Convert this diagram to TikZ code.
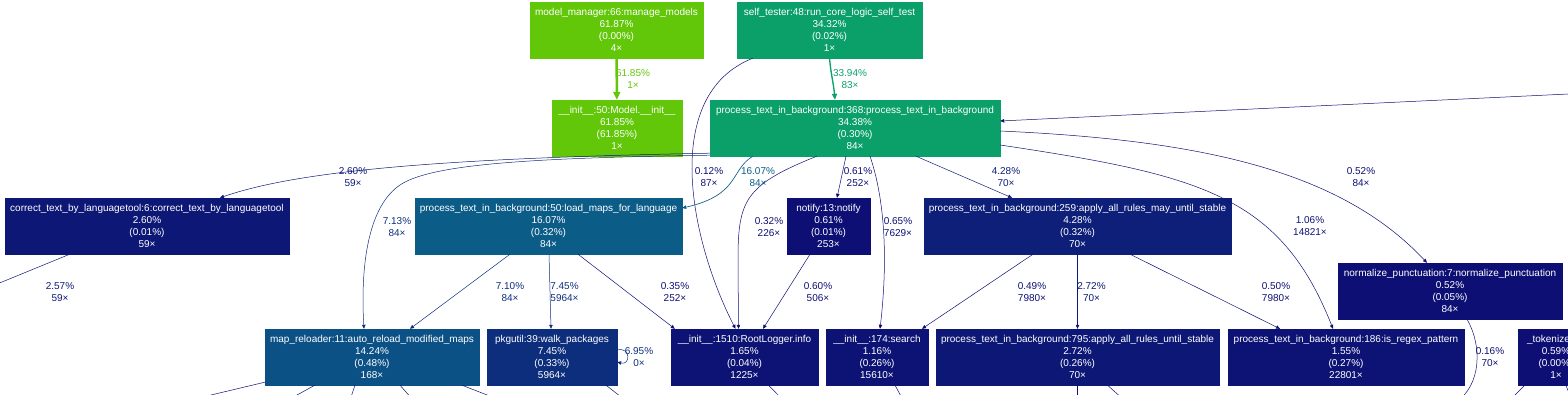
\documentclass[tikz,border=0pt]{standalone}
\usepackage{fontspec}
\setmainfont{Liberation Sans}
\usetikzlibrary{arrows.meta,calc}

\definecolor{hot62}{RGB}{98,199,8}
\definecolor{hot34}{RGB}{11,160,105}
\definecolor{hot16}{RGB}{12,92,136}
\definecolor{hot14}{RGB}{12,81,133}
\definecolor{hot7}{RGB}{13,46,124}
\definecolor{hot4}{RGB}{13,31,120}
\definecolor{hot3}{RGB}{13,24,118}
\definecolor{hot1}{RGB}{13,19,117}
\definecolor{cold}{RGB}{13,15,116}

\begin{document}
\begin{tikzpicture}[x=1pt,y=1pt,
  fn/.style={draw=#1,fill=#1,text=white,inner sep=0pt,minimum height=56pt,
    align=center,font=\fontsize{10}{12}\selectfont},
  lbl/.style={text=#1,inner sep=0pt,align=center,font=\fontsize{10}{12}\selectfont},
  edge/.style={draw=#1,line width=0.5pt,-{Triangle[length=4pt,width=3.5pt]}},
  stub/.style={draw=cold,line width=0.5pt}]

\useasboundingbox (0,0) rectangle (1568,-394);

% function boxes
\node[fn=hot62,minimum width=173pt] (mm) at (616.5,-30) {model\_manager:66:manage\_models\\61.87\%\\(0.00\%)\\4×};
\node[fn=hot34,minimum width=185pt] (st) at (829.5,-30) {self\_tester:48:run\_core\_logic\_self\_test\\34.32\%\\(0.02\%)\\1×};
\node[fn=hot62,minimum width=130pt] (minit) at (617,-128) {\_\_init\_\_:50:Model.\_\_init\_\_\\61.85\%\\(61.85\%)\\1×};
\node[fn=hot34,minimum width=290pt] (p368) at (855,-128) {process\_text\_in\_background:368:process\_text\_in\_background\\34.38\%\\(0.30\%)\\84×};

\node[fn=hot3,minimum width=284pt] (corr) at (147,-226) {correct\_text\_by\_languagetool:6:correct\_text\_by\_languagetool\\2.60\%\\(0.01\%)\\59×};
\node[fn=hot16,minimum width=267pt] (lmaps) at (548.5,-226) {process\_text\_in\_background:50:load\_maps\_for\_language\\16.07\%\\(0.32\%)\\84×};
\node[fn=cold,minimum width=83pt] (notify) at (828.5,-226) {notify:13:notify\\0.61\%\\(0.01\%)\\253×};
\node[fn=hot4,minimum width=307pt] (rules259) at (1077.5,-226) {process\_text\_in\_background:259:apply\_all\_rules\_may\_until\_stable\\4.28\%\\(0.32\%)\\70×};
\node[fn=cold,minimum width=224pt] (norm) at (1450,-291) {normalize\_punctuation:7:normalize\_punctuation\\0.52\%\\(0.05\%)\\84×};

\node[fn=hot14,minimum width=214pt] (mapr) at (372,-357) {map\_reloader:11:auto\_reload\_modified\_maps\\14.24\%\\(0.48\%)\\168×};
\node[fn=hot7,minimum width=130pt] (walk) at (552,-357) {pkgutil:39:walk\_packages\\7.45\%\\(0.33\%)\\5964×};
\node[fn=hot1,minimum width=147pt] (rootl) at (744.5,-357) {\_\_init\_\_:1510:RootLogger.info\\1.65\%\\(0.04\%)\\1225×};
\node[fn=hot1,minimum width=102pt] (search) at (877,-357) {\_\_init\_\_:174:search\\1.16\%\\(0.26\%)\\15610×};
\node[fn=hot3,minimum width=283pt] (rules795) at (1077.5,-357) {process\_text\_in\_background:795:apply\_all\_rules\_until\_stable\\2.72\%\\(0.26\%)\\70×};
\node[fn=hot1,minimum width=236pt] (regex) at (1346,-357) {process\_text\_in\_background:186:is\_regex\_pattern\\1.55\%\\(0.27\%)\\22801×};
\node[fn=cold,minimum width=76pt] (tok) at (1556,-357) {\makebox[58pt][l]{\_tokenize}\\0.59\%\\(0.00\%)\\1×};

% loose ends
\coordinate (offright) at (1600,-92.5);
\coordinate (offleft) at (-20,-291);
\coordinate (offnorm) at (1452,-405);

% calls
\draw[edge=hot62,line width=2.5pt,-{Triangle[length=8pt,width=7pt]}] (mm) -- (minit);
\draw[edge=hot34,line width=1.35pt,-{Triangle[length=6pt,width=5pt]}] (st.south) to[out=-85,in=95] ($(p368.north)+(-20,0)$);
\draw[edge=cold] ($(st.south west)+(16,0)$) .. controls (660,-95) and (690,-240) .. ($(rootl.north)+(-9,0)$);
\draw[edge=cold] (offright) -- ($(p368.east)+(0,7)$);

\draw[edge=hot3] ($(p368.south west)+(0,3)$) .. controls (450,-158) and (300,-170) .. ($(corr.north)+(73,0)$);
\draw[edge=hot7] ($(p368.south west)+(0,1)$) .. controls (520,-158) and (430,-165) .. (400,-185)
  .. controls (370,-205) and (360,-260) .. ($(mapr.north)+(-8,0)$);
\draw[edge=hot16,line width=0.65pt] ($(p368.south west)+(43,0)$) .. controls (730,-170) and (740,-195) .. ($(lmaps.east)+(0,18)$);
\draw[edge=cold] ($(p368.south west)+(107,0)$) .. controls (745,-185) and (738,-200) .. (738,-260) -- ($(rootl.north)+(-6,0)$);
\draw[edge=cold] ($(p368.south)+(-9,0)$) -- ($(notify.north)+(8.5,0)$);
\draw[edge=cold] ($(p368.south)+(15,0)$) .. controls (885,-200) and (888,-260) .. ($(search.north)+(3,0)$);
\draw[edge=hot4] ($(p368.south)+(61,0)$) -- ($(rules259.north)+(-65.5,0)$);
\draw[edge=hot1] ($(p368.east)+(0,-17)$) .. controls (1200,-175) and (1280,-195) .. ($(regex.north)+(-13,0)$);
\draw[edge=cold] ($(p368.east)+(0,-3)$) .. controls (1200,-140) and (1340,-170) .. ($(norm.north)+(-23,0)$);

\draw[edge=hot3] ($(corr.south west)+(65,0)$) -- (offleft);
\draw[edge=hot7] ($(lmaps.south)+(-38.5,0)$) -- ($(mapr.north)+(38,0)$);
\draw[edge=hot7] ($(lmaps.south)+(0.5,0)$) -- ($(walk.north)+(-1,0)$);
\draw[edge=cold] ($(lmaps.south)+(29.5,0)$) -- ($(rootl.north west)+(4,0)$);
\draw[edge=cold] ($(notify.south)+(-18.5,0)$) -- ($(rootl.north)+(18.5,0)$);
\draw[edge=cold] ($(rules259.south)+(-44.5,0)$) -- ($(search.north)+(45,0)$);
\draw[edge=hot3] (rules259.south) -- (rules795.north);
\draw[edge=cold] ($(rules259.south)+(52.5,0)$) -- ($(regex.north)+(-66,0)$);
\draw[edge=hot7] ($(walk.east)+(0,7)$) to[out=15,in=-15,looseness=3] ($(walk.east)+(0,-5)$);
\draw[edge=cold] ($(norm.south)+(17,0)$) .. controls (1482,-345) and (1482,-385) .. (offnorm);

% calls leaving the bottom
\draw[stub] ($(mapr.south west)+(0,3)$) -- (190,-400);
\draw[stub] ($(mapr.south west)+(50,0)$) -- (288,-400);
\draw[stub] ($(mapr.south)+(-17,0)$) -- (350,-400);
\draw[stub] ($(mapr.south)+(28,0)$) -- (413,-400);
\draw[stub] ($(mapr.south)+(90,0)$) -- (500,-400);
\draw[stub] ($(walk.south)+(54,0)$) -- (625,-400);
\draw[stub] ($(rootl.south)+(24,0)$) -- (783,-400);
\draw[stub] ($(search.south)+(18,0)$) -- (903,-400);
\draw[stub] (rules795.south) -- (1077.5,-400);
\draw[stub] ($(rules795.south)+(30,0)$) -- (1124,-400);
\draw[stub] ($(tok.south west)+(7,0)$) -- (1510,-400);
\draw[stub] ($(tok.south west)+(48,0)$) -- (1572,-400);

% call labels
\node[lbl=hot62] (l-mm) at (633,-79.5) {61.85\%\\1×};
\node[lbl=hot34] (l-st) at (850,-79.5) {33.94\%\\83×};
\node[lbl=cold] (l-strl) at (709,-177.5) {0.12\%\\87×};
\node[lbl=hot16] (l-lmaps) at (758,-177.5) {16.07\%\\84×};
\node[lbl=hot3] (l-corr) at (353,-177.5) {2.60\%\\59×};
\node[lbl=hot7] (l-mapr) at (397,-227) {7.13\%\\84×};
\node[lbl=cold] (l-prl) at (769,-227) {0.32\%\\226×};
\node[lbl=cold] (l-notify) at (858,-177.5) {0.61\%\\252×};
\node[lbl=cold] (l-search) at (898,-227) {0.65\%\\7629×};
\node[lbl=hot4] (l-rules) at (1006,-177.5) {4.28\%\\70×};
\node[lbl=hot1] (l-regex) at (1310,-226.5) {1.06\%\\14821×};
\node[lbl=cold] (l-norm) at (1361,-177.5) {0.52\%\\84×};
\node[lbl=hot3] (l-corrout) at (60,-292.5) {2.57\%\\59×};
\node[lbl=hot7] (l-lmmapr) at (510,-292.5) {7.10\%\\84×};
\node[lbl=hot7] (l-walk) at (564.5,-292.5) {7.45\%\\5964×};
\node[lbl=cold] (l-lmrl) at (675,-292.5) {0.35\%\\252×};
\node[lbl=cold] (l-nrl) at (818,-292.5) {0.60\%\\506×};
\node[lbl=cold] (l-rsearch) at (1032,-292.5) {0.49\%\\7980×};
\node[lbl=hot3] (l-r795) at (1091.5,-292.5) {2.72\%\\70×};
\node[lbl=cold] (l-rregex) at (1276,-292.5) {0.50\%\\7980×};
\node[lbl=hot7] (l-loop) at (639,-357.5) {6.95\%\\0×};
\node[lbl=cold] (l-normout) at (1490,-357.5) {0.16\%\\70×};

\end{tikzpicture}
\end{document}
